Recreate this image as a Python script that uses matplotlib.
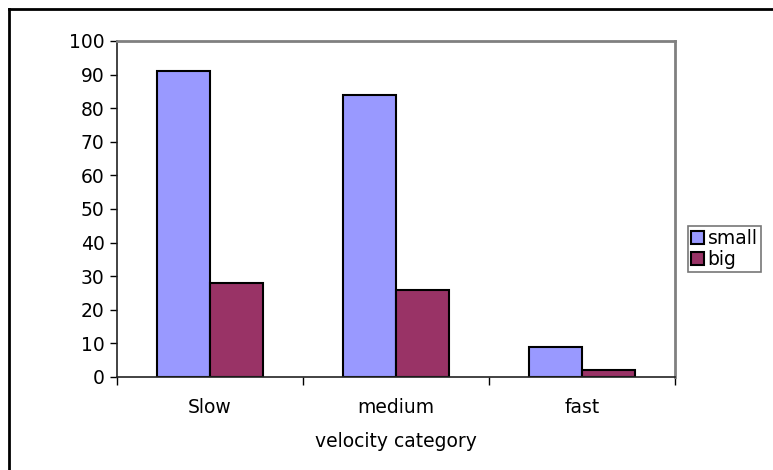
import numpy as np
import matplotlib.pyplot as plt
from matplotlib.patches import Patch
from matplotlib.lines import Line2D

# counts per velocity category
categories = ['Slow', 'medium', 'fast']
small = [91, 84, 9]
big = [28, 26, 2]

W, H = 773, 470
FS = 13.5
fig = plt.figure(figsize=(W/100.0, H/100.0), dpi=100)
fig.patch.set_facecolor('white')
plt.rcParams['font.family'] = ['DejaVu Sans']

ax = fig.add_axes([117.0/W, 1 - 377.0/H, 558.0/W, 336.0/H])

x = np.arange(len(categories))
w = 1/3.5
ax.bar(x - w/2, small, width=w, color='#9999FF', edgecolor='black', linewidth=1.5, label='small')
ax.bar(x + w/2, big, width=w, color='#993366', edgecolor='black', linewidth=1.5, label='big')

ax.set_xlim(-0.5, 2.5)
ax.set_ylim(0, 100)
ax.set_yticks(range(0, 101, 10))
ax.tick_params(axis='y', labelsize=FS, length=5, width=1, direction='out', pad=4, colors='black')

# category ticks sit on the boundaries, labels centred between them
ax.set_xticks([-0.5, 0.5, 1.5, 2.5])
ax.set_xticklabels([])
ax.set_xticks(x, minor=True)
ax.set_xticklabels(categories, minor=True, fontsize=FS)
ax.tick_params(axis='x', which='major', length=6, width=1, direction='out')
ax.tick_params(axis='x', which='minor', length=0, pad=15)
ax.set_xlabel('velocity category', fontsize=FS, labelpad=11)

for s in ['left', 'bottom']:
    ax.spines[s].set_color('#222222')
    ax.spines[s].set_linewidth(1.2)
for s in ['top', 'right']:
    ax.spines[s].set_color('#808080')
    ax.spines[s].set_linewidth(2)

# outer chart border (runs off the right and bottom edges)
fig.add_artist(Line2D([8.5/W, 8.5/W], [0, 1 - 8.5/H], transform=fig.transFigure, color='black', lw=2))
fig.add_artist(Line2D([8.5/W, 1], [1 - 8.5/H, 1 - 8.5/H], transform=fig.transFigure, color='black', lw=2))

handles = [Patch(facecolor='#9999FF', edgecolor='black', linewidth=1.5, label='small'),
           Patch(facecolor='#993366', edgecolor='black', linewidth=1.5, label='big')]
leg = fig.legend(handles=handles, loc='upper left', bbox_to_anchor=(688.0/W, 1 - 226.0/H),
                 fontsize=FS, frameon=True, fancybox=False, shadow=False,
                 handlelength=0.7, handleheight=0.7, handletextpad=0.2,
                 borderpad=0.15, labelspacing=0.1, borderaxespad=0)
leg.get_frame().set_edgecolor('#555555')
leg.get_frame().set_linewidth(1.2)

fig.savefig('out.png', dpi=100)
